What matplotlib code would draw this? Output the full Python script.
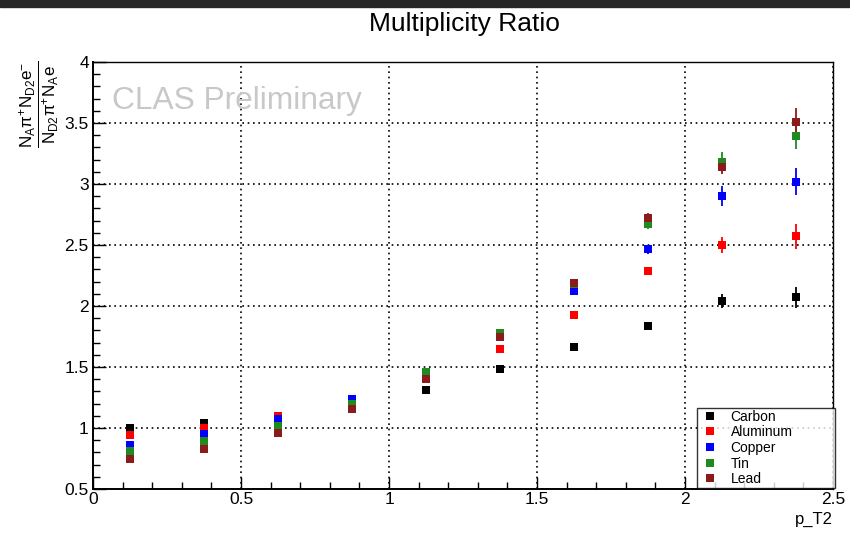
import matplotlib
matplotlib.use("Agg")
import matplotlib.pyplot as plt
from matplotlib.lines import Line2D
from matplotlib.patches import Rectangle
from matplotlib.ticker import MultipleLocator, FormatStrFormatter

plt.rcParams["font.family"] = ["Liberation Sans", "DejaVu Sans"]
plt.rcParams["mathtext.fontset"] = "custom"
plt.rcParams["mathtext.rm"] = "Liberation Sans"
plt.rcParams["mathtext.it"] = "Liberation Sans"
plt.rcParams["mathtext.sf"] = "Liberation Sans"
plt.rcParams["mathtext.default"] = "regular"

# p_T2 bin centres
pt2 = [0.125, 0.375, 0.625, 0.875, 1.125, 1.375, 1.625, 1.875, 2.125, 2.375]

carbon = [1.00, 1.04, 1.06, 1.20, 1.31, 1.485, 1.66, 1.835, 2.04, 2.07]
aluminum = [0.94, 1.00, 1.10, 1.22, 1.43, 1.645, 1.93, 2.285, 2.50, 2.57]
copper = [0.86, 0.95, 1.07, 1.235, 1.44, 1.75, 2.12, 2.465, 2.90, 3.02]
tin = [0.81, 0.89, 1.02, 1.20, 1.457, 1.78, 2.18, 2.67, 3.18, 3.39]
lead = [0.75, 0.83, 0.96, 1.155, 1.40, 1.75, 2.19, 2.72, 3.14, 3.51]

carbon_err = [0.01, 0.01, 0.01, 0.01, 0.01, 0.015, 0.02, 0.025, 0.055, 0.085]
aluminum_err = [0.01, 0.01, 0.01, 0.01, 0.015, 0.015, 0.02, 0.03, 0.065, 0.10]
copper_err = [0.01, 0.01, 0.01, 0.01, 0.015, 0.02, 0.02, 0.035, 0.08, 0.11]
tin_err = [0.01, 0.01, 0.01, 0.015, 0.015, 0.02, 0.025, 0.04, 0.08, 0.10]
lead_err = [0.01, 0.01, 0.01, 0.015, 0.015, 0.02, 0.025, 0.04, 0.06, 0.11]

names = ["Carbon", "Aluminum", "Copper", "Tin", "Lead"]
colors = ["#000000", "#ff0000", "#0000ff", "#1f8a1f", "#8b1a1a"]
series = [carbon, aluminum, copper, tin, lead]
errors = [carbon_err, aluminum_err, copper_err, tin_err, lead_err]

fig = plt.figure(figsize=(8.5, 5.39), dpi=100)
fig.patches.append(Rectangle((0, 1 - 7 / 539), 1, 7 / 539, transform=fig.transFigure,
                             color="#262626", zorder=0))

ax = fig.add_axes([93 / 850, 1 - 489 / 539, 740 / 850, 427 / 539])

for name, col, vals, errs in zip(names, colors, series, errors):
    ax.errorbar(pt2, vals, yerr=errs, fmt="s", color=col, ms=5.6, mew=0,
                elinewidth=1.3, capsize=1.8, capthick=1.3, zorder=3)

ax.set_xlim(0, 2.5)
ax.set_ylim(0.5, 4)
ax.xaxis.set_major_locator(MultipleLocator(0.5))
ax.xaxis.set_minor_locator(MultipleLocator(0.1))
ax.yaxis.set_major_locator(MultipleLocator(0.5))
ax.yaxis.set_minor_locator(MultipleLocator(0.1))
ax.xaxis.set_major_formatter(FormatStrFormatter("%g"))
ax.yaxis.set_major_formatter(FormatStrFormatter("%g"))
ax.tick_params(which="both", direction="in", top=False, right=False,
               labelsize=12.5, width=1)
ax.tick_params(which="major", length=9)
ax.tick_params(which="minor", length=5)
ax.tick_params(axis="x", pad=2)
ax.tick_params(axis="y", pad=3)
ax.grid(True, which="major", color="black", linestyle=(0, (1, 2.2)), linewidth=1.2)
for s in ax.spines.values():
    s.set_linewidth(1.0)
ax.spines["left"].set_linewidth(1.4)
ax.spines["bottom"].set_linewidth(1.4)

fig.text(464 / 850, 1 - 24 / 539, "Multiplicity Ratio", ha="center", va="center",
         fontsize=19)
ax.text(112 / 850, 1 - 101 / 539, "CLAS Preliminary", transform=fig.transFigure,
        color="#c8c8c8", fontsize=22.8, ha="left", va="center")
fig.text(39 / 850, 1 - 104 / 539,
         r"$\frac{N_{A}\pi^{+}N_{D2}e^{-}}{N_{D2}\pi^{+}N_{A}e}$",
         rotation=90, ha="center", va="center", fontsize=17.5)
fig.text(833 / 850, 1 - 519 / 539, "p_T2", ha="right", va="center", fontsize=12)

handles = [Line2D([], [], marker="s", linestyle="none", color=c, ms=5.5, mew=0)
           for c in colors]
leg = ax.legend(handles, names, loc="lower left",
                bbox_to_anchor=(697 / 850, 1 - 488 / 539, 138 / 850, 80 / 539),
                bbox_transform=fig.transFigure, mode="expand", fontsize=10,
                frameon=True, fancybox=False, borderpad=0.12, labelspacing=0.12,
                handlelength=1.6, handletextpad=0.7, borderaxespad=0)
leg.get_frame().set_edgecolor("black")
leg.get_frame().set_linewidth(1.0)
leg.set_zorder(5)

fig.savefig("out.png", dpi=100)
